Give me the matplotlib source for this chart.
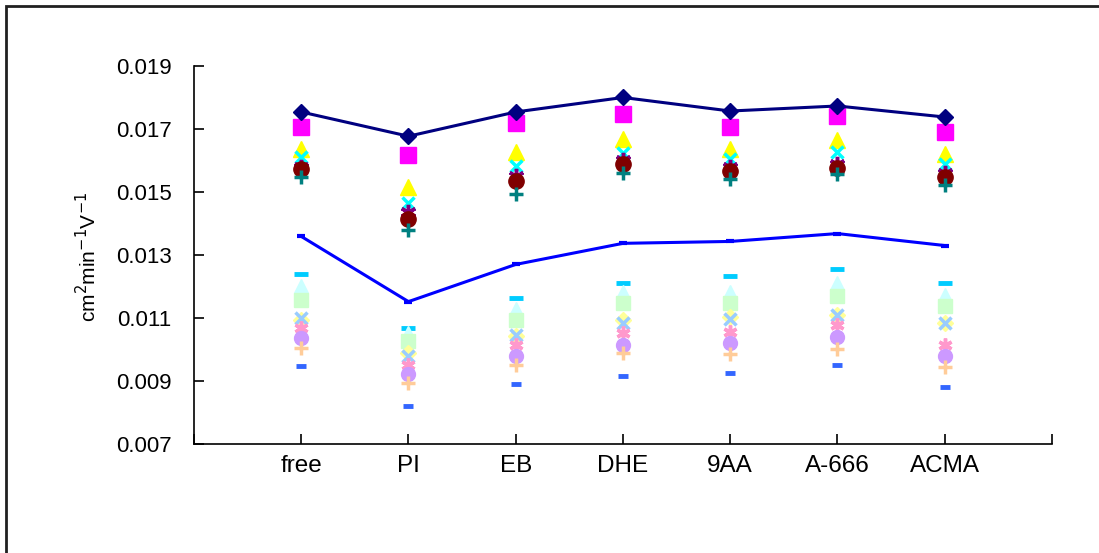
import numpy as np
import matplotlib.pyplot as plt
from matplotlib.patches import Rectangle

plt.rcParams['font.family'] = ['Liberation Sans', 'DejaVu Sans']

categories = ["free", "PI", "EB", "DHE", "9AA", "A-666", "ACMA"]

# upper group (dark colours)
navy_line  = [0.01754, 0.01677, 0.01754, 0.01800, 0.01757, 0.01773, 0.01738]
magenta_sq = [0.01706, 0.01617, 0.01719, 0.01747, 0.01706, 0.01740, 0.01690]
yellow_tri = [0.01636, 0.01515, 0.01626, 0.01668, 0.01636, 0.01665, 0.01620]
cyan_x     = [0.01610, 0.01464, 0.01582, 0.01623, 0.01604, 0.01626, 0.01588]
purple_ast = [0.01580, 0.01438, 0.01550, 0.01600, 0.01578, 0.01588, 0.01560]
maroon_o   = [0.01572, 0.01413, 0.01534, 0.01588, 0.01566, 0.01575, 0.01547]
teal_plus  = [0.01547, 0.01378, 0.01493, 0.01560, 0.01540, 0.01556, 0.01521]
blue_line  = [0.01359, 0.01152, 0.01270, 0.01337, 0.01343, 0.01368, 0.01330]

# lower group (pale colours)
sky_dash   = [0.01241, 0.01069, 0.01162, 0.01212, 0.01232, 0.01254, 0.01212]
pcyan_tri  = [0.01200, 0.01053, 0.01127, 0.01181, 0.01184, 0.01212, 0.01174]
pgreen_sq  = [0.01158, 0.01028, 0.01095, 0.01149, 0.01149, 0.01171, 0.01139]
pyellow_d  = [0.01095, 0.00990, 0.01044, 0.01095, 0.01104, 0.01110, 0.01085]
lblue_x    = [0.01101, 0.00980, 0.01047, 0.01085, 0.01098, 0.01110, 0.01085]
pink_ast   = [0.01069, 0.00951, 0.01015, 0.01053, 0.01057, 0.01079, 0.01015]
lav_o      = [0.01037, 0.00923, 0.00980, 0.01015, 0.01021, 0.01040, 0.00980]
peach_plus = [0.01006, 0.00894, 0.00951, 0.00990, 0.00986, 0.01002, 0.00945]
royal_dash = [0.00948, 0.00821, 0.00891, 0.00916, 0.00926, 0.00951, 0.00881]

x = np.arange(1, len(categories) + 1)
ast = (6, 2, 0)

fig = plt.figure(figsize=(10.99, 5.53), dpi=100)
ax = fig.add_axes([0.1765, 0.1971, 0.7807, 0.6836])

# pale group
ax.plot(x, sky_dash, ls='none', marker='_', ms=10, mew=3.5, color='#00CCFF')
ax.plot(x, pcyan_tri, ls='none', marker='^', ms=10, color='#CCFFFF', mec='#CCFFFF')
ax.plot(x, pgreen_sq, ls='none', marker='s', ms=10, color='#CCFFCC', mec='#CCFFCC')
ax.plot(x, pyellow_d, ls='none', marker='D', ms=8, color='#FFFF99', mec='#FFFF99')
ax.plot(x, lblue_x, ls='none', marker='x', ms=9, mew=2.5, color='#99CCFF')
ax.plot(x, pink_ast, ls='none', marker=ast, ms=10, mew=2.5, color='#FF99CC')
ax.plot(x, lav_o, ls='none', marker='o', ms=10, color='#CC99FF', mec='#CC99FF')
ax.plot(x, peach_plus, ls='none', marker='+', ms=10, mew=2.5, color='#FFCC99')
ax.plot(x, royal_dash, ls='none', marker='_', ms=7, mew=3.5, color='#3366FF')

# dark group
ax.plot(x, magenta_sq, ls='none', marker='s', ms=11, color='#FF00FF', mec='#FF00FF')
ax.plot(x, yellow_tri, ls='none', marker='^', ms=11, color='#FFFF00', mec='#FFFF00')
ax.plot(x, cyan_x, ls='none', marker='x', ms=9, mew=2.5, color='#00FFFF')
ax.plot(x, purple_ast, ls='none', marker=ast, ms=11, mew=2.5, color='#800080')
ax.plot(x, maroon_o, ls='none', marker='o', ms=11, color='#800000', mec='#800000')
ax.plot(x, teal_plus, ls='none', marker='+', ms=10, mew=2.5, color='#008080')
ax.plot(x, blue_line, '-', lw=2.2, marker='_', ms=6, mew=3, color='#0000FF')
ax.plot(x, navy_line, '-', lw=2.2, marker='D', ms=8, color='#000080')

yt = np.arange(0.007, 0.0191, 0.002)
ax.set_xlim(0, 8)
ax.set_ylim(0.007, 0.019)
ax.set_yticks(yt)
ax.set_yticklabels(["%.3f" % v for v in yt])
ax.set_xticks(np.arange(0, 9))
ax.set_xticklabels([""] + categories + [""])
ax.tick_params(axis='y', direction='in', length=7, width=1.2, pad=16, labelsize=16)
ax.tick_params(axis='x', direction='in', length=7, width=1.2, pad=8, labelsize=17.5)
for s in ['top', 'right']:
    ax.spines[s].set_visible(False)
for s in ['left', 'bottom']:
    ax.spines[s].set_linewidth(1.2)

fig.text(88 / 1099, 1 - 257 / 553, r"cm$^2$min$^{-1}$V$^{-1}$", rotation=90,
         ha='center', va='center', fontsize=15)

# outer frame
fig.patches.append(Rectangle((6 / 1099, -0.1), 1.2, 1.1 - 6 / 553,
                             transform=fig.transFigure, fill=False,
                             lw=2, ec='#202020'))

fig.savefig("out.png", dpi=100)
